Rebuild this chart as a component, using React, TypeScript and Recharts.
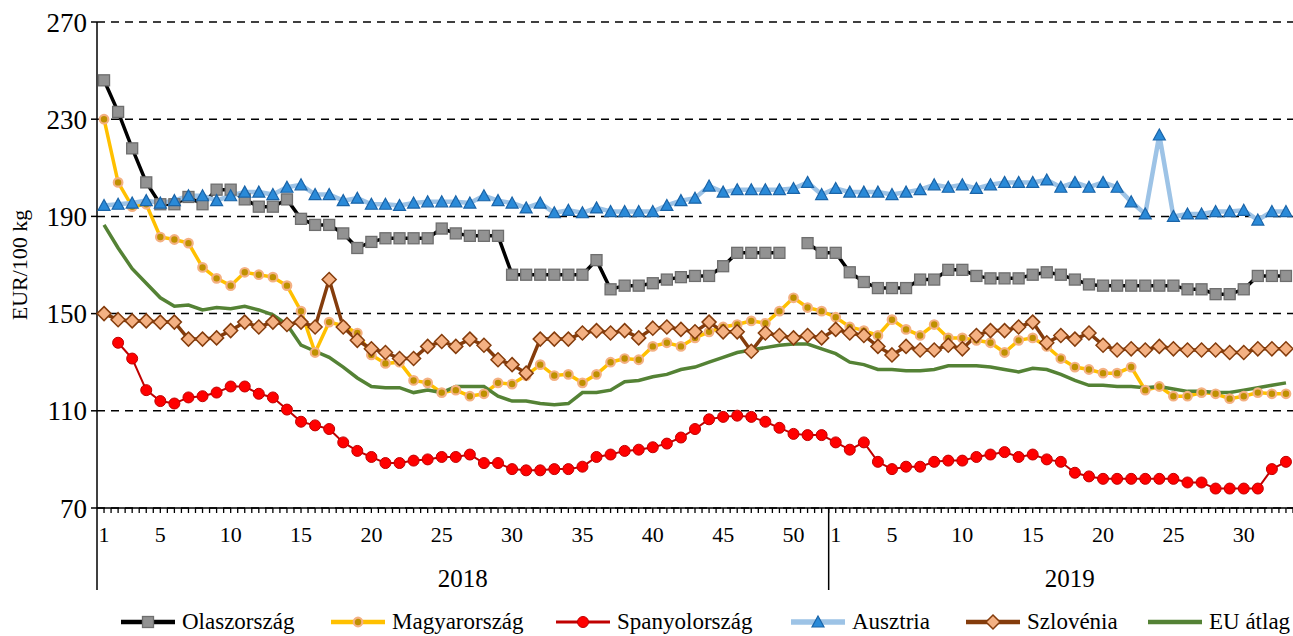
import { LineChart, Line, XAxis, YAxis, CartesianGrid, Legend } from 'recharts'

// hetek: 2018. 1-52, 2019. 1-33
const years = [2018, 2019]
const weeksPerYear = [52, 33]

const olaszorszag = [
  246, 233, 218, 204, 195, 195, 198, 195, 201, 201,
  197, 194, 194, 197, 189, 186.5, 186.5, 183, 177, 179.5,
  181, 181, 181, 181, 185, 183, 182, 182, 182, 166,
  166, 166, 166, 166, 166, 172, 160, 161.5, 161.5, 162.5,
  164, 165, 165.5, 165.5, 169.5, 175, 175, 175, 175, null,
  179, 175, 175, 167, 163, 160.5, 160.5, 160.5, 164, 164,
  168, 168, 165.5, 164.5, 164.5, 164.5, 166, 167, 166, 164,
  162, 161.5, 161.5, 161.5, 161.5, 161.5, 161.5, 160, 160, 158,
  158, 160, 165.5, 165.5, 165.5,
]
const magyarorszag = [
  230, 204, 194, 195, 181.5, 180.5, 179, 169, 164.5, 161.5,
  167, 166, 165, 161.5, 151, 134, 146.5, 145, 142, 133,
  129.5, 130, 122.5, 121.5, 117.5, 118.5, 116, 117, 121.5, 121,
  124.5, 129, 124.5, 125, 121.5, 125, 130, 131.5, 131, 136.5,
  138, 136.5, 140, 142.5, 144.5, 145.5, 147, 146, 151, 156.5,
  152.5, 151, 148.5, 144.5, 143, 141, 147.5, 143.5, 141, 145.5,
  140, 140, 139, 138, 134, 139, 140, 136.5, 131.5, 128,
  127, 125.5, 125.5, 128, 118.5, 120, 116, 116, 117.5, 117,
  115, 116, 117.5, 117, 117,
]
const spanyolorszag = [
  null, 138, 131.5, 118.5, 114, 113, 115.5, 116, 117.5, 120,
  120, 117, 115.5, 110.5, 105.5, 104, 102.5, 97, 93.5, 91,
  88.5, 88.5, 89.5, 90, 91, 91, 92, 88.5, 88.5, 86,
  85.5, 85.5, 86, 86, 87, 91, 92, 93.5, 94, 95,
  96.5, 99, 102.5, 106.5, 107.5, 108, 107.5, 105.5, 103, 100.5,
  100, 100, 97, 94, 97, 89, 86, 87, 87, 89,
  89.5, 89.5, 91, 92, 93, 91, 92, 90, 89, 84.5,
  83, 82, 82, 82, 82, 82, 82, 80.5, 80.5, 78,
  78, 78, 78, 86, 89,
]
const ausztria = [
  194.5, 195, 195.5, 196.5, 195.5, 196.5, 198.5, 198.5, 196.5, 198.5,
  200, 200, 199, 202, 203, 199, 199, 196.5, 197.5, 195,
  195, 194.5, 195.5, 196, 196, 196, 195.5, 198.5, 196.5, 195.5,
  193.5, 195.5, 191.5, 192.5, 191.5, 193.5, 192, 192, 192, 192,
  194.5, 196.5, 197.5, 202.5, 200, 201, 201, 201, 201, 201.5,
  204, 199, 201.5, 200, 200, 200, 199, 200, 201, 203,
  202, 203, 201.5, 203, 204, 204, 204, 205, 202, 204,
  202, 204, 202, 196, 191, 223.5, 190, 191, 191, 192,
  192, 192.5, 188.5, 192, 192,
]
const szlovenia = [
  150, 147.5, 147, 147, 146.5, 146.5, 139.5, 139.5, 140, 143,
  146.5, 144.5, 146.5, 145.5, 146.5, 144.5, 164, 144.5, 139, 135.5,
  134, 131.5, 131.5, 136.5, 138.5, 136.5, 139.5, 137, 131, 129,
  125.5, 139.5, 139.5, 139.5, 142, 143, 142, 143, 140, 144,
  144.5, 143.5, 142.5, 146.5, 142.5, 142.5, 134.5, 142, 141, 140,
  141, 140, 143.5, 142, 141, 136.5, 133, 136.5, 135, 135,
  137, 135.5, 141, 143, 143, 144.5, 146.5, 138, 141, 139.5,
  142, 137, 135, 135.5, 135, 136.5, 135.5, 135, 135, 135,
  134, 134, 135.5, 135.5, 135.5,
]
const euAtlag = [
  186.5, 177, 168.5, 162.5, 156.5, 153, 153.5, 151.5, 152.5, 152,
  153, 151.5, 149.5, 145.5, 137, 134.5, 132, 128, 123.5, 120,
  119.5, 119.5, 117.5, 118.5, 117.5, 120, 120, 120, 116, 114,
  114, 113, 112.5, 113, 117.5, 117.5, 118.5, 122, 122.5, 124,
  125, 127, 128, 130, 132, 134, 135, 136, 137, 137.5,
  137.5, 135.5, 133.5, 130, 129, 127, 127, 126.5, 126.5, 127,
  128.5, 128.5, 128.5, 128, 127, 126, 127.5, 127, 125, 122.5,
  120.5, 120.5, 120, 120, 119.5, 120, 119, 118, 118, 117.5,
  117.5, 118.5, 119.5, 120.5, 121.5,
]
const yTicks = [70, 110, 150, 190, 230, 270]

const W = 1293
const H = 636
const PLOT_LEFT = 97
const BAND = (W - PLOT_LEFT) / 85
const FONT = '"Liberation Serif", "Times New Roman", serif'

const rows: any[] = []
years.forEach((yr, yi) => {
  for (let w = 1; w <= weeksPerYear[yi]; w++) {
    const i = rows.length
    rows.push({
      key: `${yr}-${w}`,
      week: w,
      year: yr,
      olasz: olaszorszag[i],
      magyar: magyarorszag[i],
      spanyol: spanyolorszag[i],
      ausztria: ausztria[i],
      szlovenia: szlovenia[i],
      eu: euAtlag[i],
    })
  }
})

const square = (cx: number, cy: number) => (
  <rect x={cx - 5.5} y={cy - 5.5} width={11} height={11} fill="#929292" stroke="#6e6e6e" strokeWidth={1.3} />
)
const goldDot = (cx: number, cy: number) => (
  <circle cx={cx} cy={cy} r={4.3} fill="#bf9000" stroke="#f4b183" strokeWidth={2.2} />
)
const redDot = (cx: number, cy: number) => (
  <circle cx={cx} cy={cy} r={5.5} fill="#ff0000" stroke="#c00000" strokeWidth={1} />
)
const triangle = (cx: number, cy: number) => (
  <path d={`M${cx},${cy - 6} L${cx + 6},${cy + 5} L${cx - 6},${cy + 5} Z`} fill="#2a8ad8" stroke="#1a64a8" strokeWidth={1.2} />
)
const diamond = (cx: number, cy: number) => (
  <path d={`M${cx},${cy - 7} L${cx + 7},${cy} L${cx},${cy + 7} L${cx - 7},${cy} Z`} fill="#f4b183" stroke="#843c0c" strokeWidth={1.5} />
)

const dotWith = (shape: (cx: number, cy: number) => any) => (props: any) => {
  const { cx, cy, index, value } = props
  if (value == null || cx == null || cy == null || isNaN(cy)) return <g key={`d-${index}`} />
  return <g key={`d-${index}`}>{shape(cx, cy)}</g>
}

const series = [
  { key: 'olasz', label: 'Olaszország', color: '#000000', width: 3.5, marker: square, slot: 210 },
  { key: 'magyar', label: 'Magyarország', color: '#ffc000', width: 3.5, marker: goldDot, slot: 225 },
  { key: 'spanyol', label: 'Spanyolország', color: '#c00000', width: 2, marker: redDot, slot: 235 },
  { key: 'ausztria', label: 'Ausztria', color: '#9dc3e6', width: 4.5, marker: triangle, slot: 175 },
  { key: 'szlovenia', label: 'Szlovénia', color: '#843c0c', width: 3.5, marker: diamond, slot: 182 },
  { key: 'eu', label: 'EU átlag', color: '#548235', width: 3.5, marker: null, slot: 140 },
]

function XTick(props: any) {
  const { x, y, payload } = props
  const i = payload.index
  const row = rows[i]
  if (!row) return null
  const showWeek = row.week === 1 || row.week % 5 === 0
  return (
    <g>
      <line x1={x} y1={y} x2={x} y2={y + 5} stroke="#000" strokeWidth={1.3} />
      <line x1={x + BAND / 2} y1={y} x2={x + BAND / 2} y2={y + 5} stroke="#000" strokeWidth={1.3} />
      {showWeek && (
        <text x={x} y={y + 34} textAnchor="middle" fontSize={22} fontFamily={FONT} fill="#000">
          {row.week}
        </text>
      )}
      {i === 0 && <line x1={x - BAND / 2} y1={y} x2={x - BAND / 2} y2={y + 82} stroke="#000" strokeWidth={1.5} />}
      {i === 51 && <line x1={x + BAND / 2} y1={y} x2={x + BAND / 2} y2={y + 82} stroke="#000" strokeWidth={1.5} />}
      {i === 25 && (
        <text x={x + BAND / 2} y={y + 79} textAnchor="middle" fontSize={25} fontFamily={FONT} fill="#000">
          2018
        </text>
      )}
      {i === 68 && (
        <text x={x + 9} y={y + 79} textAnchor="middle" fontSize={25} fontFamily={FONT} fill="#000">
          2019
        </text>
      )}
    </g>
  )
}

function LegendRow() {
  return (
    <div
      style={{
        display: 'flex',
        alignItems: 'center',
        height: 30,
        paddingLeft: 119,
        paddingTop: 2,
        fontFamily: FONT,
        fontSize: 23,
        color: '#000',
        whiteSpace: 'nowrap',
        boxSizing: 'border-box',
      }}
    >
      {series.map((s) => (
        <div key={s.key} style={{ display: 'flex', alignItems: 'center', width: s.slot, flex: 'none' }}>
          <svg width={58} height={20} style={{ marginRight: 5, flex: 'none' }}>
            <line x1={2} y1={10} x2={56} y2={10} stroke={s.color} strokeWidth={s.width + 1} />
            {s.marker && s.marker(29, 10)}
          </svg>
          <span>{s.label}</span>
        </div>
      ))}
    </div>
  )
}

export default function App() {
  return (
    <div style={{ position: 'absolute', left: 0, top: 0, width: W, height: H, background: '#fff', overflow: 'hidden' }}>
      <LineChart width={W} height={H} data={rows} margin={{ top: 22, right: 0, left: 0, bottom: 0 }}>
        <CartesianGrid horizontal vertical={false} stroke="#000" strokeWidth={1.5} strokeDasharray="8 6" />
        <XAxis
          dataKey="key"
          interval={0}
          padding={{ left: BAND / 2, right: BAND / 2 }}
          tick={<XTick />}
          tickLine={false}
          tickSize={0}
          tickMargin={0}
          height={98}
          axisLine={{ stroke: '#000', strokeWidth: 1.5 }}
        />
        <YAxis
          domain={[70, 270]}
          ticks={yTicks}
          width={PLOT_LEFT}
          tickSize={6}
          tickLine={{ stroke: '#000', strokeWidth: 1.5 }}
          axisLine={{ stroke: '#000', strokeWidth: 1.5 }}
          tick={{ fontSize: 27, fill: '#000', fontFamily: FONT, dx: -2 }}
          label={{
            value: 'EUR/100 kg',
            angle: -90,
            position: 'insideLeft',
            offset: 19,
            style: { textAnchor: 'middle', fontSize: 22, fontFamily: FONT, fill: '#000' },
          }}
        />
        <Legend
          verticalAlign="bottom"
          height={30}
          wrapperStyle={{ left: 0, width: W }}
          content={() => <LegendRow />}
        />
        {series.map((s) => (
          <Line
            key={s.key}
            type="linear"
            dataKey={s.key}
            name={s.label}
            stroke={s.color}
            strokeWidth={s.width}
            dot={s.marker ? dotWith(s.marker) : false}
            activeDot={false}
            isAnimationActive={false}
          />
        ))}
      </LineChart>
    </div>
  )
}
